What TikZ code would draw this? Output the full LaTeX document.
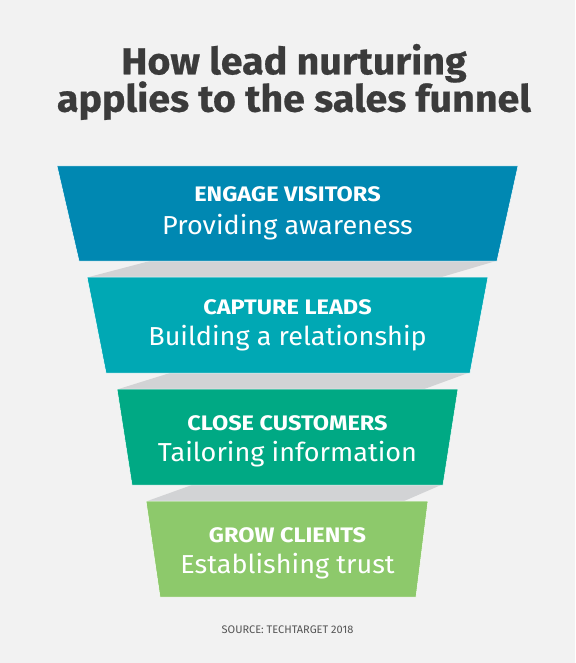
\documentclass[tikz,border=0pt]{standalone}
\usepackage{fontspec}
\setmainfont{Fira Sans}
\newfontfamily\titlefont[FakeStretch=1.05,FakeBold=0.6]{Fira Sans}
\newfontfamily\headfont[FakeStretch=1.12]{Fira Sans}
\newfontfamily\subfont[FakeStretch=1.04]{Fira Sans}
\definecolor{bgc}{HTML}{F2F2F2}
\definecolor{titlec}{HTML}{3B3B3B}
\definecolor{bandA}{HTML}{0088B2}
\definecolor{bandB}{HTML}{00A8B4}
\definecolor{bandC}{HTML}{00A984}
\definecolor{bandD}{HTML}{8DC96B}
\definecolor{shadowc}{HTML}{D2D3D5}
\definecolor{srcc}{HTML}{555555}
\tikzset{
  band/.style={draw=white, line width=0.5pt},
  ribbon/.style={fill=shadowc},
  headtxt/.style={anchor=base, text=white, font=\headfont\fontsize{21}{21}\selectfont\bfseries, inner sep=0pt},
  subtxt/.style={anchor=base, text=white, font=\subfont\fontsize{26}{26}\selectfont, inner sep=0pt},
  titletxt/.style={anchor=base, text=titlec, font=\titlefont\fontsize{37.5}{37.5}\selectfont\bfseries, inner sep=0pt},
  srctxt/.style={anchor=base, text=srcc, font=\fontsize{11}{11}\selectfont, inner sep=0pt}
}
\begin{document}
\begin{tikzpicture}[x=1pt,y=-1pt]
\fill[bgc] (0,0) rectangle (575,663);
\useasboundingbox (0,0) rectangle (575,663);
% ribbons
\fill[ribbon] (150,261) -- (496,261) -- (440,277.5) -- (87,277.5) -- cycle;
\fill[ribbon] (170,373) -- (468,373) -- (423,389.5) -- (117,389.5) -- cycle;
\fill[ribbon] (192,485) -- (441,485) -- (403,501.5) -- (146,501.5) -- cycle;
% bands
\filldraw[band, fill=bandA] (57,166) -- (518,166) -- (497,261) -- (79,261) -- cycle;
\filldraw[band, fill=bandB] (87,277) -- (488,277) -- (470,373) -- (106,373) -- cycle;
\filldraw[band, fill=bandC] (117,389) -- (458,389) -- (443,485) -- (132,485) -- cycle;
\filldraw[band, fill=bandD] (146,501) -- (428,501) -- (416,597) -- (160,597) -- cycle;
% title
\node[titletxt] (t1) at (294,74.3) {How lead nurturing};
\node[titletxt] (t2) at (294,111.7) {applies to the sales funnel};
% band texts
\node[headtxt] (h1) at (287.5,201.7) {ENGAGE VISITORS};
\node[subtxt] (s1) at (287.5,234) {Providing awareness};
\node[headtxt] (h2) at (287.5,314) {CAPTURE LEADS};
\node[subtxt] (s2) at (287.5,345.7) {Building a relationship};
\node[headtxt] (h3) at (287.5,430) {CLOSE CUSTOMERS};
\node[subtxt] (s3) at (287.5,461) {Tailoring information};
\node[headtxt] (h4) at (287.5,542.3) {GROW CLIENTS};
\node[subtxt] (s4) at (287.5,573.4) {Establishing trust};
% source
\node[srctxt] (src) at (287.5,633.3) {SOURCE: TECHTARGET 2018};
\end{tikzpicture}
\end{document}
